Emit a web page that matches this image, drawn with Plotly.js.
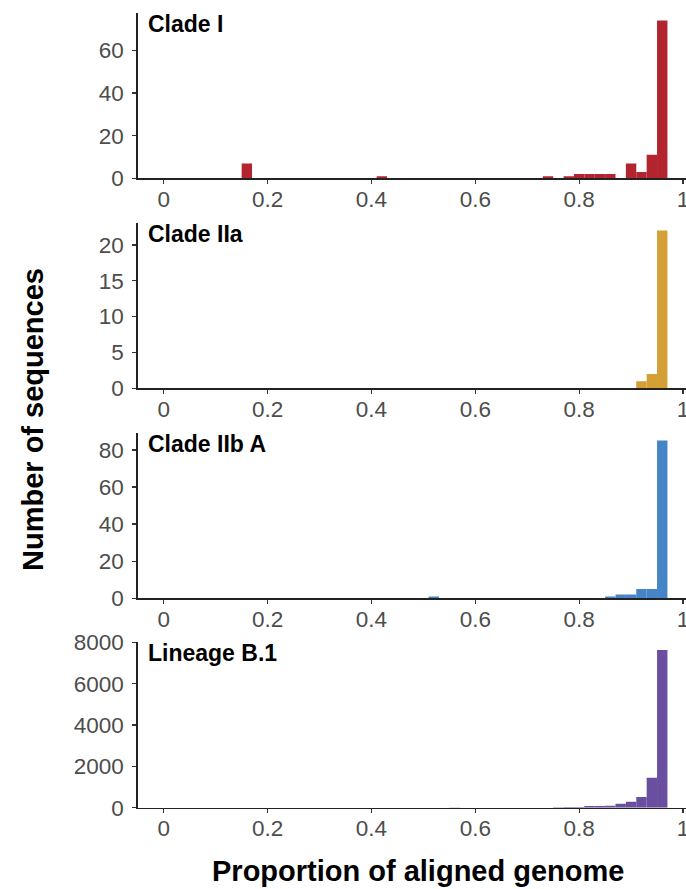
<!DOCTYPE html>
<html>
<head>
<meta charset="utf-8">
<script src="https://cdn.plot.ly/plotly-3.0.1.min.js"></script>
<style>
  html, body { margin: 0; padding: 0; background: #fff; overflow: hidden; }
  #chart { width: 686px; height: 889px; }
</style>
</head>
<body>
<div id="chart"></div>
<script>
// ---- Data (bin centres, binwidth 0.02) ----
const panelNames = ["Clade I", "Clade IIa", "Clade IIb A", "Lineage B.1"];
const cladeI_x   = [0.16, 0.42, 0.74, 0.78, 0.80, 0.82, 0.84, 0.86, 0.90, 0.92, 0.94, 0.96];
const cladeI_y   = [7, 1, 1, 1, 2, 2, 2, 2, 7, 3, 11, 74];
const cladeIIa_x = [0.92, 0.94, 0.96];
const cladeIIa_y = [1, 2, 22];
const cladeIIbA_x = [0.52, 0.86, 0.88, 0.90, 0.92, 0.94, 0.96];
const cladeIIbA_y = [1, 1, 2, 2, 5, 5, 85];
const lineageB1_x = [0.56, 0.76, 0.78, 0.80, 0.82, 0.84, 0.86, 0.88, 0.90, 0.92, 0.94, 0.96];
const lineageB1_y = [15, 25, 30, 35, 80, 85, 90, 190, 290, 520, 1450, 7640];
const xTickVals = [0, 0.2, 0.4, 0.6, 0.8, 1];
const xTickText = ["0", "0.2", "0.4", "0.6", "0.8", "1"];
const yDticks = [20, 5, 20, 2000];
const colors = ["#B2242E", "#D4A035", "#4584C6", "#6A4FA0"];
const xTitle = "Proportion of aligned genome";
const yTitle = "Number of sequences";

const seriesX = [cladeI_x, cladeIIa_x, cladeIIbA_x, lineageB1_x];
const seriesY = [cladeI_y, cladeIIa_y, cladeIIbA_y, lineageB1_y];

// ---- Layout geometry (pixels) ----
const W = 686, H = 889;
const plotLeft = 137.5;
const panelTops = [12.7, 222.7, 432.7, 642];
const panelBottoms = [178.3, 388.3, 598.3, 807.7];
const FONT = "Liberation Sans, Arial, Helvetica, sans-serif";

const traces = [];
const layout = {
  width: W, height: H,
  margin: {l: 0, r: 0, t: 0, b: 0, pad: 0},
  paper_bgcolor: "#ffffff", plot_bgcolor: "#ffffff",
  showlegend: false,
  font: {family: FONT, color: "#4D4D4D"},
  annotations: []
};

for (let i = 0; i < 4; i++) {
  const sfx = i === 0 ? "" : String(i + 1);
  traces.push({
    type: "bar",
    x: seriesX[i], y: seriesY[i],
    width: 0.02,
    marker: {color: colors[i], line: {width: 0}},
    xaxis: "x" + sfx, yaxis: "y" + sfx,
    hoverinfo: "x+y"
  });
  const ymax = Math.max(...seriesY[i]) * 1.05;
  layout["xaxis" + sfx] = {
    domain: [plotLeft / W, 1],
    range: [-0.0506, (W - 163) / 520],
    anchor: "y" + sfx,
    tickmode: "array", tickvals: xTickVals, ticktext: xTickText,
    showgrid: false, zeroline: false,
    showline: true, linecolor: "#222", linewidth: 1.3,
    ticks: "outside", ticklen: 4, tickwidth: 1.3, tickcolor: "#333",
    tickfont: {family: FONT, size: 22.5, color: "#4D4D4D"},
    ticklabeloverflow: "allow",
    ticklabelstandoff: -4,
    fixedrange: true
  };
  layout["yaxis" + sfx] = {
    domain: [1 - panelBottoms[i] / H, 1 - panelTops[i] / H],
    range: [0, ymax],
    anchor: "x" + sfx,
    tickmode: "linear", tick0: 0, dtick: yDticks[i],
    showgrid: false, zeroline: false,
    showline: true, linecolor: "#222", linewidth: 1.3,
    ticks: "outside", ticklen: 4, tickwidth: 1.3, tickcolor: "#333",
    tickfont: {family: FONT, size: 22.5, color: "#4D4D4D"},
    ticklabeloverflow: "allow",
    ticklabelstandoff: 4,
    fixedrange: true
  };
  layout.annotations.push({
    xref: "paper", yref: "paper",
    x: 146 / W, y: 1 - panelTops[i] / H,
    xanchor: "left", yanchor: "top", yshift: 4,
    text: "<b>" + panelNames[i] + "</b>",
    showarrow: false,
    font: {family: FONT, size: 23, color: "#000"}
  });
}

layout.annotations.push({
  xref: "paper", yref: "paper",
  x: 418 / W, y: 0, xanchor: "center", yanchor: "bottom",
  text: "<b>" + xTitle + "</b>", showarrow: false,
  font: {family: FONT, size: 29, color: "#000"}
});
layout.annotations.push({
  xref: "paper", yref: "paper",
  x: 33 / W, y: 1 - 420 / H, xanchor: "center", yanchor: "middle",
  textangle: -90,
  text: "<b>" + yTitle + "</b>", showarrow: false,
  font: {family: FONT, size: 29, color: "#000"}
});

Plotly.newPlot("chart", traces, layout, {displayModeBar: false, staticPlot: true});
</script>
</body>
</html>
